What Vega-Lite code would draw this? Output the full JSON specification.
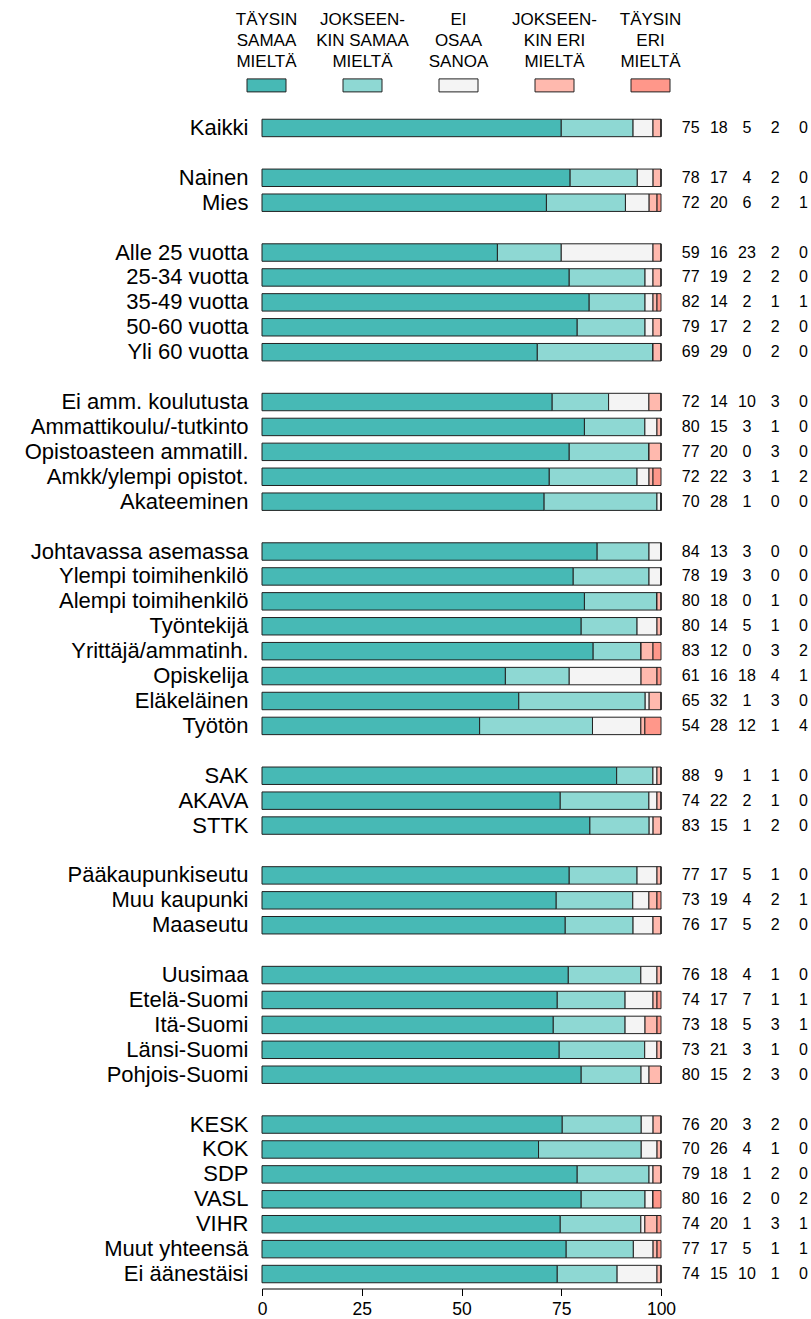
{
  "$schema": "https://vega.github.io/schema/vega-lite/v6.json",
  "padding": {"left": 5, "right": 0, "top": 7, "bottom": 0},
  "config": {"font": "Liberation Sans", "view": {"stroke": null}},
  "datasets": {
    "rows": [
      {"g": "Kaikki", "c1": 75, "c2": 18, "c3": 5, "c4": 2, "c5": 0},
      {"g": "Nainen", "c1": 78, "c2": 17, "c3": 4, "c4": 2, "c5": 0},
      {"g": "Mies", "c1": 72, "c2": 20, "c3": 6, "c4": 2, "c5": 1},
      {"g": "Alle 25 vuotta", "c1": 59, "c2": 16, "c3": 23, "c4": 2, "c5": 0},
      {"g": "25-34 vuotta", "c1": 77, "c2": 19, "c3": 2, "c4": 2, "c5": 0},
      {"g": "35-49 vuotta", "c1": 82, "c2": 14, "c3": 2, "c4": 1, "c5": 1},
      {"g": "50-60 vuotta", "c1": 79, "c2": 17, "c3": 2, "c4": 2, "c5": 0},
      {"g": "Yli 60 vuotta", "c1": 69, "c2": 29, "c3": 0, "c4": 2, "c5": 0},
      {"g": "Ei amm. koulutusta", "c1": 72, "c2": 14, "c3": 10, "c4": 3, "c5": 0},
      {"g": "Ammattikoulu/-tutkinto", "c1": 80, "c2": 15, "c3": 3, "c4": 1, "c5": 0},
      {"g": "Opistoasteen ammatill.", "c1": 77, "c2": 20, "c3": 0, "c4": 3, "c5": 0},
      {"g": "Amkk/ylempi opistot.", "c1": 72, "c2": 22, "c3": 3, "c4": 1, "c5": 2},
      {"g": "Akateeminen", "c1": 70, "c2": 28, "c3": 1, "c4": 0, "c5": 0},
      {"g": "Johtavassa asemassa", "c1": 84, "c2": 13, "c3": 3, "c4": 0, "c5": 0},
      {"g": "Ylempi toimihenkilö", "c1": 78, "c2": 19, "c3": 3, "c4": 0, "c5": 0},
      {"g": "Alempi toimihenkilö", "c1": 80, "c2": 18, "c3": 0, "c4": 1, "c5": 0},
      {"g": "Työntekijä", "c1": 80, "c2": 14, "c3": 5, "c4": 1, "c5": 0},
      {"g": "Yrittäjä/ammatinh.", "c1": 83, "c2": 12, "c3": 0, "c4": 3, "c5": 2},
      {"g": "Opiskelija", "c1": 61, "c2": 16, "c3": 18, "c4": 4, "c5": 1},
      {"g": "Eläkeläinen", "c1": 65, "c2": 32, "c3": 1, "c4": 3, "c5": 0},
      {"g": "Työtön", "c1": 54, "c2": 28, "c3": 12, "c4": 1, "c5": 4},
      {"g": "SAK", "c1": 88, "c2": 9, "c3": 1, "c4": 1, "c5": 0},
      {"g": "AKAVA", "c1": 74, "c2": 22, "c3": 2, "c4": 1, "c5": 0},
      {"g": "STTK", "c1": 83, "c2": 15, "c3": 1, "c4": 2, "c5": 0},
      {"g": "Pääkaupunkiseutu", "c1": 77, "c2": 17, "c3": 5, "c4": 1, "c5": 0},
      {"g": "Muu kaupunki", "c1": 73, "c2": 19, "c3": 4, "c4": 2, "c5": 1},
      {"g": "Maaseutu", "c1": 76, "c2": 17, "c3": 5, "c4": 2, "c5": 0},
      {"g": "Uusimaa", "c1": 76, "c2": 18, "c3": 4, "c4": 1, "c5": 0},
      {"g": "Etelä-Suomi", "c1": 74, "c2": 17, "c3": 7, "c4": 1, "c5": 1},
      {"g": "Itä-Suomi", "c1": 73, "c2": 18, "c3": 5, "c4": 3, "c5": 1},
      {"g": "Länsi-Suomi", "c1": 73, "c2": 21, "c3": 3, "c4": 1, "c5": 0},
      {"g": "Pohjois-Suomi", "c1": 80, "c2": 15, "c3": 2, "c4": 3, "c5": 0},
      {"g": "KESK", "c1": 76, "c2": 20, "c3": 3, "c4": 2, "c5": 0},
      {"g": "KOK", "c1": 70, "c2": 26, "c3": 4, "c4": 1, "c5": 0},
      {"g": "SDP", "c1": 79, "c2": 18, "c3": 1, "c4": 2, "c5": 0},
      {"g": "VASL", "c1": 80, "c2": 16, "c3": 2, "c4": 0, "c5": 2},
      {"g": "VIHR", "c1": 74, "c2": 20, "c3": 1, "c4": 3, "c5": 1},
      {"g": "Muut yhteensä", "c1": 77, "c2": 17, "c3": 5, "c4": 1, "c5": 1},
      {"g": "Ei äänestäisi", "c1": 74, "c2": 15, "c3": 10, "c4": 1, "c5": 0}
    ],
    "legend": [
      {"cat": "c1", "label": "TÄYSIN\nSAMAA\nMIELTÄ"},
      {"cat": "c2", "label": "JOKSEEN-\nKIN SAMAA\nMIELTÄ"},
      {"cat": "c3", "label": "EI\nOSAA\nSANOA"},
      {"cat": "c4", "label": "JOKSEEN-\nKIN ERI\nMIELTÄ"},
      {"cat": "c5", "label": "TÄYSIN\nERI\nMIELTÄ"}
    ]
  },
  "spacing": 18.5,
  "vconcat": [
    {
      "data": {"name": "legend"},
      "width": 400,
      "height": 89.6,
      "layer": [
        {
          "mark": {"type": "text", "lineBreak": "\n", "fontSize": 17, "lineHeight": 21, "baseline": "middle", "align": "center", "color": "black", "dy": 2},
          "encoding": {
            "x": {"field": "cat", "type": "nominal", "axis": null, "scale": {"type": "point", "range": [4.5, 388.5], "padding": 0}},
            "y": {"datum": "l1", "type": "nominal", "axis": null, "scale": {"domain": ["l1", "l2", "l3", "s"], "paddingInner": 0, "paddingOuter": 0}},
            "text": {"field": "label", "type": "nominal"}
          }
        },
        {
          "mark": {"type": "rect", "width": 39, "height": 13, "stroke": "#222", "strokeWidth": 1},
          "encoding": {
            "x": {"field": "cat", "type": "nominal"},
            "y": {"datum": "s", "type": "nominal"},
            "color": {"field": "cat", "type": "nominal", "legend": null,
                      "scale": {"domain": ["c1", "c2", "c3", "c4", "c5"], "range": ["#47b9b5", "#8ed8d3", "#f4f4f4", "#ffb9ae", "#ff978a"]}}
          }
        }
      ]
    },
    {
      "spacing": 5,
      "hconcat": [
        {
          "data": {"name": "rows"},
          "transform": [{"fold": ["c1", "c2", "c3", "c4", "c5"], "as": ["cat", "v"]}],
          "width": 399,
          "height": 1171,
          "mark": {"type": "bar", "stroke": "#222", "strokeWidth": 1},
          "encoding": {
            "y": {
              "field": "g", "type": "nominal",
              "scale": {"domain": ["Kaikki", " ", "Nainen", "Mies", "  ", "Alle 25 vuotta", "25-34 vuotta", "35-49 vuotta", "50-60 vuotta", "Yli 60 vuotta", "   ", "Ei amm. koulutusta", "Ammattikoulu/-tutkinto", "Opistoasteen ammatill.", "Amkk/ylempi opistot.", "Akateeminen", "    ", "Johtavassa asemassa", "Ylempi toimihenkilö", "Alempi toimihenkilö", "Työntekijä", "Yrittäjä/ammatinh.", "Opiskelija", "Eläkeläinen", "Työtön", "     ", "SAK", "AKAVA", "STTK", "      ", "Pääkaupunkiseutu", "Muu kaupunki", "Maaseutu", "       ", "Uusimaa", "Etelä-Suomi", "Itä-Suomi", "Länsi-Suomi", "Pohjois-Suomi", "        ", "KESK", "KOK", "SDP", "VASL", "VIHR", "Muut yhteensä", "Ei äänestäisi"],
                        "paddingInner": 0.3, "paddingOuter": 0.15},
              "axis": {"title": null, "ticks": false, "domain": false, "labelFontSize": 22, "labelColor": "black", "labelPadding": 14, "labelLimit": 400, "minExtent": 257, "maxExtent": 257}
            },
            "x": {
              "field": "v", "type": "quantitative", "stack": "normalize",
              "scale": {"domain": [0, 1], "nice": false},
              "axis": {"title": null, "values": [0, 0.25, 0.5, 0.75, 1], "labelExpr": "format(datum.value * 100, 'd')", "grid": false, "domainColor": "black", "tickColor": "black", "tickSize": 7, "labelFontSize": 17.5, "labelColor": "black", "labelPadding": 5, "offset": 2, "labelFlush": false}
            },
            "color": {"field": "cat", "type": "nominal", "legend": null,
                      "scale": {"domain": ["c1", "c2", "c3", "c4", "c5"], "range": ["#47b9b5", "#8ed8d3", "#f4f4f4", "#ffb9ae", "#ff978a"]}},
            "order": {"field": "cat", "type": "nominal", "sort": "ascending"}
          }
        },
        {
          "data": {"name": "rows"},
          "transform": [{"fold": ["c1", "c2", "c3", "c4", "c5"], "as": ["cat", "v"]}],
          "width": 124,
          "height": 1171,
          "mark": {"type": "text", "fontSize": 16, "color": "black", "baseline": "middle", "align": "center"},
          "encoding": {
            "x": {"field": "cat", "type": "nominal", "axis": null, "scale": {"type": "point", "padding": 0.2}},
            "y": {
              "field": "g", "type": "nominal", "axis": null,
              "scale": {"domain": ["Kaikki", " ", "Nainen", "Mies", "  ", "Alle 25 vuotta", "25-34 vuotta", "35-49 vuotta", "50-60 vuotta", "Yli 60 vuotta", "   ", "Ei amm. koulutusta", "Ammattikoulu/-tutkinto", "Opistoasteen ammatill.", "Amkk/ylempi opistot.", "Akateeminen", "    ", "Johtavassa asemassa", "Ylempi toimihenkilö", "Alempi toimihenkilö", "Työntekijä", "Yrittäjä/ammatinh.", "Opiskelija", "Eläkeläinen", "Työtön", "     ", "SAK", "AKAVA", "STTK", "      ", "Pääkaupunkiseutu", "Muu kaupunki", "Maaseutu", "       ", "Uusimaa", "Etelä-Suomi", "Itä-Suomi", "Länsi-Suomi", "Pohjois-Suomi", "        ", "KESK", "KOK", "SDP", "VASL", "VIHR", "Muut yhteensä", "Ei äänestäisi"],
                        "paddingInner": 0.3, "paddingOuter": 0.15}
            },
            "text": {"field": "v", "type": "quantitative"}
          }
        }
      ]
    }
  ]
}
